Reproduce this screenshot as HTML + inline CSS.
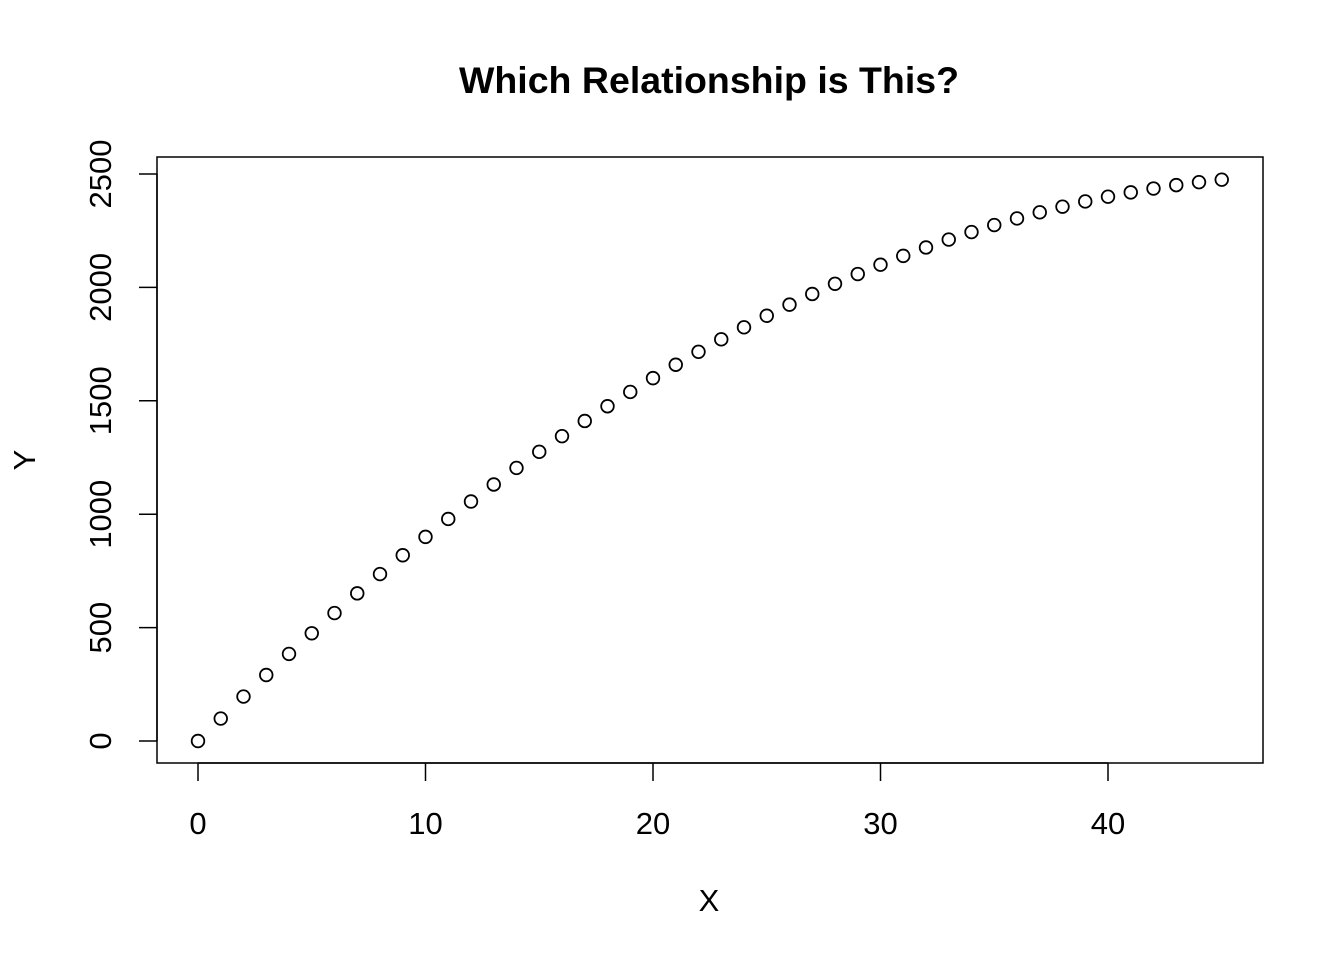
<!DOCTYPE html>
<html><head><meta charset="utf-8"><style>
html,body{margin:0;padding:0;background:#fff;}
svg{display:block;font-family:"Liberation Sans",Arial,sans-serif;}
</style></head><body>
<svg id="chart" width="1344" height="960" viewBox="0 0 1344 960">
<rect width="1344" height="960" fill="#fff"/>
<text x="709" y="93" text-anchor="middle" font-size="37.5" font-weight="bold">Which Relationship is This?</text>
<rect x="157" y="157" width="1106" height="606" fill="none" stroke="#000" stroke-width="1.5"/>
<g id="xaxis"></g>
<g id="yaxis"></g>
<g id="points"></g>
<text x="709" y="911" text-anchor="middle" font-size="31">X</text>
<text x="0" y="0" transform="translate(35,460) rotate(-90)" text-anchor="middle" font-size="31">Y</text>
</svg>
<script>
const xValues = [0,1,2,3,4,5,6,7,8,9,10,11,12,13,14,15,16,17,18,19,20,21,22,23,24,25,26,27,28,29,30,31,32,33,34,35,36,37,38,39,40,41,42,43,44,45];
const yValues = [0,99,196,291,384,475,564,651,736,819,900,979,1056,1131,1204,1275,1344,1411,1476,1539,1600,1659,1716,1771,1824,1875,1924,1971,2016,2059,2100,2139,2176,2211,2244,2275,2304,2331,2356,2379,2400,2419,2436,2451,2464,2475];
const xTicks = [0,10,20,30,40];
const yTicks = [0,500,1000,1500,2000,2500];

const NS = "http://www.w3.org/2000/svg";
function sx(v){ return 198 + (v - 0) * (1108 - 198) / 40; }
function sy(v){ return 741 - v * (741 - 174) / 2500; }
function mk(tag, attrs, parent){
  const e = document.createElementNS(NS, tag);
  for (const k in attrs) e.setAttribute(k, attrs[k]);
  parent.appendChild(e);
  return e;
}
const xa = document.getElementById('xaxis');
const ya = document.getElementById('yaxis');
const pts = document.getElementById('points');
mk('line',{x1:sx(xTicks[0]),x2:sx(xTicks[xTicks.length-1]),y1:763,y2:763,stroke:'#000','stroke-width':1.5},xa);
xTicks.forEach(t=>{
  const l = mk('line',{x1:sx(t),x2:sx(t),y1:763,y2:781,stroke:'#000','stroke-width':1.5},xa);
  
  
  const tx = mk('text',{x:sx(t),y:834,'text-anchor':'middle','font-size':31},xa);
  tx.textContent = t;
  
  
});
mk('line',{x1:157,x2:157,y1:sy(yTicks[0]),y2:sy(yTicks[yTicks.length-1]),stroke:'#000','stroke-width':1.5},ya);
yTicks.forEach(t=>{
  const l = mk('line',{x1:139,x2:157,y1:sy(t),y2:sy(t),stroke:'#000','stroke-width':1.5},ya);
  
  
  const tx = mk('text',{x:0,y:0,transform:'translate(111,'+sy(t)+') rotate(-90)','text-anchor':'middle','font-size':31},ya);
  tx.textContent = t;
  
  
});
xValues.forEach((x,i)=>{
  const c = mk('circle',{cx:sx(x),cy:sy(yValues[i]),r:6.3,fill:'none',stroke:'#000','stroke-width':1.8},pts);
  
  
});
</script>
</body></html>
